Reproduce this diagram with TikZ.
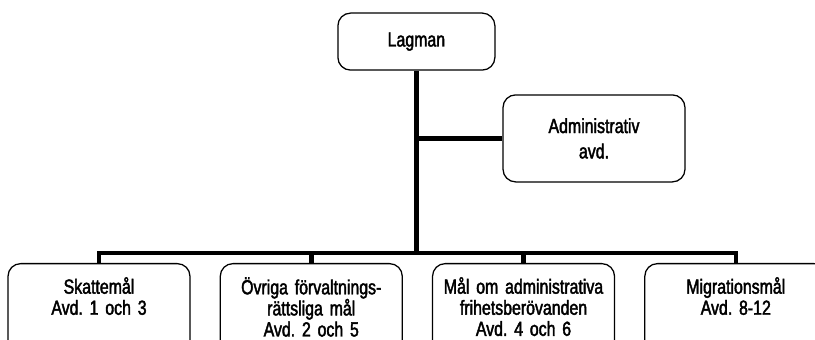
\documentclass[tikz,border=0pt]{standalone}
\usepackage{fontspec}
\setmainfont{Liberation Sans}[FakeStretch=0.78, FakeBold=2]
\usetikzlibrary{positioning}
\frenchspacing

\begin{document}
\begin{tikzpicture}[
    font=\fontsize{14.5}{15}\selectfont,
    node distance=0.725cm,
    unit/.style={
        rectangle, draw=black, line width=0.9pt,
        fill=white,
        rounded corners=9pt,
        align=center,
        inner sep=0pt
    },
    top/.style={
        unit,
        minimum width=3.925cm,
        minimum height=1.425cm
    },
    staff/.style={
        unit,
        minimum width=4.55cm,
        minimum height=2.175cm
    },
    dept/.style={
        unit,
        text width=4.55cm,
        anchor=north,
        inner ysep=0.34cm,
        text depth=3cm
    },
    trunk/.style={
        line width=3.2pt,
        draw=black,
        line join=miter
    }
]

\clip (0,0) rectangle (20.375,-8.5);

% ==========================================
% MANAGEMENT
% ==========================================

\node[top] (lagman) at (10.41,-1.04) {Lagman};
\node[staff] (admin) at (14.85,-3.46) {Administrativ\\[3pt] avd.};

% ==========================================
% DEPARTMENTS
% ==========================================

\node[dept] (skatt) at (2.475,-6.575) {Skattemål\\ Avd.\ 1 och 3};
\node[dept, right=of skatt.north east, anchor=north west] (forv)
{Övriga förvaltnings-\\ rättsliga mål\\ Avd.\ 2 och 5};
\node[dept, right=of forv.north east, anchor=north west] (frihet)
{Mål om administrativa\\ frihetsberövanden\\ Avd.\ 4 och 6};
\node[dept, right=of frihet.north east, anchor=north west] (migr)
{Migrationsmål\\ Avd.\ 8-12};

% ==========================================
% CONNECTIONS
% ==========================================

\coordinate (bar) at (0,-6.325);

\draw[trunk] (lagman.south) -- (lagman.south |- bar);
\draw[trunk] (lagman.south |- admin.west) -- (admin.west);

\draw[trunk] (skatt.north) -- (skatt.north |- bar)
-- (migr.north |- bar) -- (migr.north);
\draw[trunk] (forv.north |- bar) -- (forv.north);
\draw[trunk] (frihet.north |- bar) -- (frihet.north);

\end{tikzpicture}
\end{document}
